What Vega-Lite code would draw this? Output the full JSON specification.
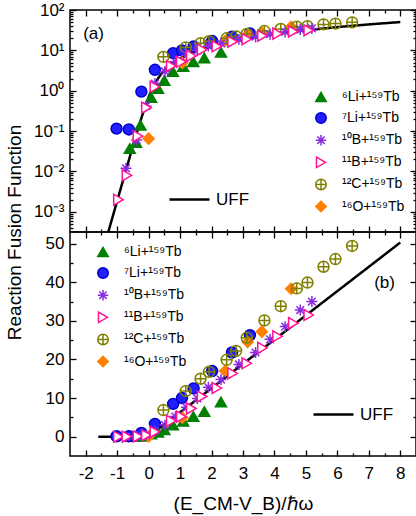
{
"$schema": "https://vega.github.io/schema/vega-lite/v6.json",
"background": "white",
"padding": {"left": 4, "top": 0, "right": 1, "bottom": 5},
"config": {
  "font": "Liberation Sans",
  "view": {"stroke": "black", "strokeWidth": 1.5},
  "axis": {"grid": false, "domain": false, "tickColor": "black", "tickWidth": 1.3, "labelColor": "black", "labelFontSize": 17, "labelFont": "Liberation Sans", "titleFont": "Liberation Sans", "titleFontSize": 19, "titleFontWeight": "normal", "titleColor": "black", "labelOverlap": false, "labelFlush": false, "labelSeparation": 0},
  "legend": {"labelFont": "Liberation Sans", "labelFontSize": 14, "labelColor": "black", "labelLimit": 300, "padding": 0}
},
"datasets": {
  "uff": [
    {"name":"UFF","x":-1.6,"y":0.000043},{"name":"UFF","x":-1.5,"y":0.000081},{"name":"UFF","x":-1.4,"y":0.000151},{"name":"UFF","x":-1.3,"y":0.000283},{"name":"UFF","x":-1.2,"y":0.000531},{"name":"UFF","x":-1.1,"y":0.000997},{"name":"UFF","x":-1.0,"y":0.00187},{"name":"UFF","x":-0.9,"y":0.0035},{"name":"UFF","x":-0.8,"y":0.00654},{"name":"UFF","x":-0.7,"y":0.0122},{"name":"UFF","x":-0.6,"y":0.0228},{"name":"UFF","x":-0.5,"y":0.0423},{"name":"UFF","x":-0.4,"y":0.0779},{"name":"UFF","x":-0.3,"y":0.141},{"name":"UFF","x":-0.2,"y":0.25},{"name":"UFF","x":-0.1,"y":0.428},{"name":"UFF","x":0,"y":0.693},{"name":"UFF","x":0.1,"y":1.056},{"name":"UFF","x":0.2,"y":1.507},{"name":"UFF","x":0.3,"y":2.026},{"name":"UFF","x":0.4,"y":2.591},{"name":"UFF","x":0.5,"y":3.184},{"name":"UFF","x":0.6,"y":3.793},{"name":"UFF","x":0.7,"y":4.41},{"name":"UFF","x":0.8,"y":5.033},{"name":"UFF","x":0.9,"y":5.658},{"name":"UFF","x":1.0,"y":6.285},{"name":"UFF","x":1.25,"y":7.854},{"name":"UFF","x":1.5,"y":9.425},{"name":"UFF","x":2,"y":12.566},{"name":"UFF","x":3,"y":18.85},{"name":"UFF","x":4,"y":25.13},{"name":"UFF","x":5,"y":31.42},{"name":"UFF","x":6,"y":37.7},{"name":"UFF","x":7,"y":43.98},{"name":"UFF","x":8,"y":50.27}
  ],
  "pts": [
    {"s":"⁶Li+¹⁵⁹Tb","x":-0.6,"y":0.037},{"s":"⁶Li+¹⁵⁹Tb","x":-0.4,"y":0.052},{"s":"⁶Li+¹⁵⁹Tb","x":-0.26,"y":0.14},{"s":"⁶Li+¹⁵⁹Tb","x":0.08,"y":0.68},{"s":"⁶Li+¹⁵⁹Tb","x":0.3,"y":1.13},{"s":"⁶Li+¹⁵⁹Tb","x":0.5,"y":1.8},{"s":"⁶Li+¹⁵⁹Tb","x":0.77,"y":3.0},{"s":"⁶Li+¹⁵⁹Tb","x":1.1,"y":4.0},{"s":"⁶Li+¹⁵⁹Tb","x":1.42,"y":5.2},{"s":"⁶Li+¹⁵⁹Tb","x":1.77,"y":6.5},{"s":"⁶Li+¹⁵⁹Tb","x":2.3,"y":9.0},
    {"s":"⁷Li+¹⁵⁹Tb","x":-1.02,"y":0.115},{"s":"⁷Li+¹⁵⁹Tb","x":-0.63,"y":0.11},{"s":"⁷Li+¹⁵⁹Tb","x":-0.23,"y":0.95},{"s":"⁷Li+¹⁵⁹Tb","x":0.2,"y":3.3},{"s":"⁷Li+¹⁵⁹Tb","x":0.78,"y":8.5},{"s":"⁷Li+¹⁵⁹Tb","x":1.06,"y":10.0},{"s":"⁷Li+¹⁵⁹Tb","x":1.43,"y":12.5},{"s":"⁷Li+¹⁵⁹Tb","x":2.02,"y":17.0},{"s":"⁷Li+¹⁵⁹Tb","x":2.65,"y":21.8},{"s":"⁷Li+¹⁵⁹Tb","x":3.22,"y":26.3},
    {"s":"¹⁶O+¹⁵⁹Tb","x":0.0,"y":0.065},{"s":"¹⁶O+¹⁵⁹Tb","x":1.07,"y":4.9},{"s":"¹⁶O+¹⁵⁹Tb","x":2.43,"y":17.0},{"s":"¹⁶O+¹⁵⁹Tb","x":3.15,"y":24.5},{"s":"¹⁶O+¹⁵⁹Tb","x":3.6,"y":27.2},{"s":"¹⁶O+¹⁵⁹Tb","x":4.53,"y":38.3},
    {"s":"¹²C+¹⁵⁹Tb","x":0.47,"y":6.9},{"s":"¹²C+¹⁵⁹Tb","x":1.18,"y":11.8},{"s":"¹²C+¹⁵⁹Tb","x":1.65,"y":15.0},{"s":"¹²C+¹⁵⁹Tb","x":1.92,"y":16.8},{"s":"¹²C+¹⁵⁹Tb","x":2.48,"y":19.9},{"s":"¹²C+¹⁵⁹Tb","x":2.78,"y":22.2},{"s":"¹²C+¹⁵⁹Tb","x":3.12,"y":25.6},{"s":"¹²C+¹⁵⁹Tb","x":3.68,"y":30.1},{"s":"¹²C+¹⁵⁹Tb","x":4.2,"y":33.8},{"s":"¹²C+¹⁵⁹Tb","x":4.71,"y":38.4},{"s":"¹²C+¹⁵⁹Tb","x":5.05,"y":39.9},{"s":"¹²C+¹⁵⁹Tb","x":5.56,"y":44.0},{"s":"¹²C+¹⁵⁹Tb","x":5.94,"y":46.0},{"s":"¹²C+¹⁵⁹Tb","x":6.47,"y":49.4},
    {"s":"¹⁰B+¹⁵⁹Tb","x":-0.72,"y":0.012},{"s":"¹⁰B+¹⁵⁹Tb","x":-0.38,"y":0.06},{"s":"¹⁰B+¹⁵⁹Tb","x":-0.08,"y":0.42},{"s":"¹⁰B+¹⁵⁹Tb","x":0.2,"y":1.5},{"s":"¹⁰B+¹⁵⁹Tb","x":0.52,"y":3.0},{"s":"¹⁰B+¹⁵⁹Tb","x":0.85,"y":5.2},{"s":"¹⁰B+¹⁵⁹Tb","x":1.2,"y":7.6},{"s":"¹⁰B+¹⁵⁹Tb","x":1.55,"y":9.9},{"s":"¹⁰B+¹⁵⁹Tb","x":1.9,"y":12.8},{"s":"¹⁰B+¹⁵⁹Tb","x":2.3,"y":14.8},{"s":"¹⁰B+¹⁵⁹Tb","x":2.87,"y":18.7},{"s":"¹⁰B+¹⁵⁹Tb","x":3.4,"y":21.8},{"s":"¹⁰B+¹⁵⁹Tb","x":3.86,"y":25.2},{"s":"¹⁰B+¹⁵⁹Tb","x":4.34,"y":28.5},{"s":"¹⁰B+¹⁵⁹Tb","x":4.82,"y":32.8},{"s":"¹⁰B+¹⁵⁹Tb","x":5.19,"y":35.0},
    {"s":"¹¹B+¹⁵⁹Tb","x":-0.96,"y":0.002},{"s":"¹¹B+¹⁵⁹Tb","x":-0.69,"y":0.008},{"s":"¹¹B+¹⁵⁹Tb","x":-0.34,"y":0.075},{"s":"¹¹B+¹⁵⁹Tb","x":-0.07,"y":0.38},{"s":"¹¹B+¹⁵⁹Tb","x":0.2,"y":1.25},{"s":"¹¹B+¹⁵⁹Tb","x":0.72,"y":4.1},{"s":"¹¹B+¹⁵⁹Tb","x":1.04,"y":5.2},{"s":"¹¹B+¹⁵⁹Tb","x":1.36,"y":7.3},{"s":"¹¹B+¹⁵⁹Tb","x":1.7,"y":10.4},{"s":"¹¹B+¹⁵⁹Tb","x":2.17,"y":12.6},{"s":"¹¹B+¹⁵⁹Tb","x":2.67,"y":16.4},{"s":"¹¹B+¹⁵⁹Tb","x":3.12,"y":19.0},{"s":"¹¹B+¹⁵⁹Tb","x":3.62,"y":23.0},{"s":"¹¹B+¹⁵⁹Tb","x":4.1,"y":26.0},{"s":"¹¹B+¹⁵⁹Tb","x":4.6,"y":29.4},{"s":"¹¹B+¹⁵⁹Tb","x":5.09,"y":31.5}
  ]
},
"spacing": 0,
"bounds": "flush",
"resolve": {"scale": {"x": "independent", "y": "independent", "fill": "independent", "stroke": "independent", "shape": "independent", "strokeDash": "independent"}, "legend": {"fill": "independent", "stroke": "independent", "shape": "independent", "strokeDash": "independent"}},
"vconcat": [
  {
    "width": 346, "height": 222,
    "resolve": {"scale": {"x": "independent", "y": "independent"}},
    "layer": [
      {
        "data": {"name": "uff"},
        "mark": {"type": "line", "color": "black", "strokeWidth": 2.5, "clip": true},
        "encoding": {
          "x": {"field": "x", "type": "quantitative", "scale": {"domain": [-2.5, 8.5], "nice": false, "zero": false},
                "axis": {"orient": "bottom", "title": null, "labels": false, "values": [-2,-1,0,1,2,3,4,5,6,7,8], "tickSize": -6}},
          "y": {"field": "y", "type": "quantitative", "scale": {"type": "log", "domain": [0.000316, 100], "nice": false},
                "axis": {"orient": "left", "title": "Reaction Fusion Function", "titleY": 222, "titleX": -46, "titleBaseline": "bottom",
                         "values": [0.001,0.01,0.1,1,10,100], "tickSize": -6, "labelPadding": 12, "labelOverlap": false,
                         "labelExpr": "datum.value == 0.001 ? '10⁻³' : datum.value == 0.01 ? '10⁻²' : datum.value == 0.1 ? '10⁻¹' : datum.value == 1 ? '10⁰' : datum.value == 10 ? '10¹' : '10²'"}},
          "strokeDash": {"field": "name", "type": "nominal", "scale": {"range": [[1, 0]]},
                         "legend": {"orient": "none", "legendX": 98, "legendY": 168, "title": null, "symbolType": "stroke", "symbolSize": 1600, "symbolStrokeColor": "black", "symbolStrokeWidth": 2.5, "labelOffset": 5, "labelFontSize": 17}}
        }
      },
      {
        "data": {"name": "pts"},
        "mark": {"type": "point", "filled": true, "size": 120, "opacity": 1, "strokeWidth": 1.5, "clip": true},
        "encoding": {
          "x": {"field": "x", "type": "quantitative", "scale": {"domain": [-2.5, 8.5], "nice": false, "zero": false}, "axis": null},
          "y": {"field": "y", "type": "quantitative", "scale": {"type": "log", "domain": [0.000316, 100], "nice": false}, "axis": null},
          "fill": {"field": "s", "type": "nominal", "scale": {"domain": ["⁶Li+¹⁵⁹Tb","⁷Li+¹⁵⁹Tb","¹⁰B+¹⁵⁹Tb","¹¹B+¹⁵⁹Tb","¹²C+¹⁵⁹Tb","¹⁶O+¹⁵⁹Tb"], "range": ["#008000","#1f1fff","#8a2be2","white","transparent","#ff8000"]},
                   "legend": {"orient": "none", "legendX": 244, "legendY": 80, "title": null, "symbolSize": 110, "symbolStrokeWidth": 1.5, "rowPadding": 4.1, "labelOffset": 14}},
          "stroke": {"field": "s", "type": "nominal", "scale": {"domain": ["⁶Li+¹⁵⁹Tb","⁷Li+¹⁵⁹Tb","¹⁰B+¹⁵⁹Tb","¹¹B+¹⁵⁹Tb","¹²C+¹⁵⁹Tb","¹⁶O+¹⁵⁹Tb"], "range": ["#008000","#0000cc","#8a2be2","#ff1493","#808000","#ff8000"]},
                   "legend": {"orient": "none", "legendX": 244, "legendY": 80, "title": null, "symbolSize": 110, "symbolStrokeWidth": 1.5, "rowPadding": 4.1, "labelOffset": 14}},
          "shape": {"field": "s", "type": "nominal", "scale": {"domain": ["⁶Li+¹⁵⁹Tb","⁷Li+¹⁵⁹Tb","¹⁰B+¹⁵⁹Tb","¹¹B+¹⁵⁹Tb","¹²C+¹⁵⁹Tb","¹⁶O+¹⁵⁹Tb"], "range": ["triangle-up","circle","M0,-1L0,1M-1,0L1,0M-0.7,-0.7L0.7,0.7M-0.7,0.7L0.7,-0.7","triangle-right","M1,0A1,1,0,1,1,-1,0A1,1,0,1,1,1,0ZM-1,0L1,0M0,-1L0,1","diamond"]},
                   "legend": {"orient": "none", "legendX": 244, "legendY": 80, "title": null, "symbolSize": 110, "symbolStrokeWidth": 1.5, "rowPadding": 4.1, "labelOffset": 14}}
        }
      },
      {
        "data": {"values": [{"label": "(a)"}]},
        "mark": {"type": "text", "fontSize": 17, "font": "Liberation Sans", "color": "black"},
        "encoding": {
          "x": {"datum": -1.75, "type": "quantitative", "scale": {"domain": [-2.5, 8.5], "nice": false, "zero": false}, "axis": null},
          "y": {"datum": 25, "type": "quantitative", "scale": {"type": "log", "domain": [0.000316, 100], "nice": false}, "axis": null},
          "text": {"field": "label"}}
      },
      {
        "data": {"name": "uff"},
        "mark": {"type": "point", "opacity": 0},
        "encoding": {
          "x": {"field": "x", "type": "quantitative", "scale": {"domain": [-2.5, 8.5], "nice": false, "zero": false},
                "axis": {"orient": "bottom", "title": null, "labels": false, "values": [-1.5,-0.5,0.5,1.5,2.5,3.5,4.5,5.5,6.5,7.5], "tickSize": -3}},
          "y": {"field": "y", "type": "quantitative", "scale": {"type": "log", "domain": [0.000316, 100], "nice": false},
                "axis": {"orient": "left", "title": null, "labels": false, "tickSize": -3,
                         "values": [0.0004,0.0005,0.0006,0.0007,0.0008,0.0009,0.002,0.003,0.004,0.005,0.006,0.007,0.008,0.009,0.02,0.03,0.04,0.05,0.06,0.07,0.08,0.09,0.2,0.3,0.4,0.5,0.6,0.7,0.8,0.9,2,3,4,5,6,7,8,9,20,30,40,50,60,70,80,90]}}
        }
      },
      {
        "data": {"name": "uff"},
        "mark": {"type": "point", "opacity": 0},
        "encoding": {
          "x": {"field": "x", "type": "quantitative", "scale": {"domain": [-2.5, 8.5], "nice": false, "zero": false},
                "axis": {"orient": "top", "title": null, "labels": false, "values": [-2,-1,0,1,2,3,4,5,6,7,8], "tickSize": -6}},
          "y": {"field": "y", "type": "quantitative", "scale": {"type": "log", "domain": [0.000316, 100], "nice": false},
                "axis": {"orient": "right", "title": null, "labels": false, "tickSize": -6, "values": [0.001,0.01,0.1,1,10,100]}}
        }
      },
      {
        "data": {"name": "uff"},
        "mark": {"type": "point", "opacity": 0},
        "encoding": {
          "x": {"field": "x", "type": "quantitative", "scale": {"domain": [-2.5, 8.5], "nice": false, "zero": false},
                "axis": {"orient": "top", "title": null, "labels": false, "values": [-1.5,-0.5,0.5,1.5,2.5,3.5,4.5,5.5,6.5,7.5], "tickSize": -3}},
          "y": {"field": "y", "type": "quantitative", "scale": {"type": "log", "domain": [0.000316, 100], "nice": false},
                "axis": {"orient": "right", "title": null, "labels": false, "tickSize": -3,
                         "values": [0.0004,0.0005,0.0006,0.0007,0.0008,0.0009,0.002,0.003,0.004,0.005,0.006,0.007,0.008,0.009,0.02,0.03,0.04,0.05,0.06,0.07,0.08,0.09,0.2,0.3,0.4,0.5,0.6,0.7,0.8,0.9,2,3,4,5,6,7,8,9,20,30,40,50,60,70,80,90]}}
        }
      }
    ]
  },
  {
    "width": 346, "height": 224,
    "resolve": {"scale": {"x": "independent", "y": "independent"}},
    "layer": [
      {
        "data": {"name": "uff"},
        "mark": {"type": "line", "color": "black", "strokeWidth": 2.5, "clip": true},
        "encoding": {
          "x": {"field": "x", "type": "quantitative", "scale": {"domain": [-2.5, 8.5], "nice": false, "zero": false},
                "axis": {"orient": "bottom", "title": "(E_CM-V_B)/ℏω", "titlePadding": 13, "values": [-2,-1,0,1,2,3,4,5,6,7,8],
                         "labelExpr": "'' + datum.value", "tickSize": -6, "labelPadding": 15, "labelOverlap": false}},
          "y": {"field": "y", "type": "quantitative", "scale": {"domain": [-5, 53], "nice": false, "zero": false},
                "axis": {"orient": "left", "title": null, "values": [0,10,20,30,40,50], "tickSize": -6, "labelPadding": 12, "labelOverlap": false}},
          "strokeDash": {"field": "name", "type": "nominal", "scale": {"range": [[1, 0]]},
                         "legend": {"orient": "none", "legendX": 242, "legendY": 161, "title": null, "symbolType": "stroke", "symbolSize": 1600, "symbolStrokeColor": "black", "symbolStrokeWidth": 2.5, "labelOffset": 5, "labelFontSize": 17}}
        }
      },
      {
        "data": {"name": "pts"},
        "mark": {"type": "point", "filled": true, "size": 120, "opacity": 1, "strokeWidth": 1.5, "clip": true},
        "encoding": {
          "x": {"field": "x", "type": "quantitative", "scale": {"domain": [-2.5, 8.5], "nice": false, "zero": false}, "axis": null},
          "y": {"field": "y", "type": "quantitative", "scale": {"domain": [-5, 53], "nice": false, "zero": false}, "axis": null},
          "fill": {"field": "s", "type": "nominal", "scale": {"domain": ["⁶Li+¹⁵⁹Tb","⁷Li+¹⁵⁹Tb","¹⁰B+¹⁵⁹Tb","¹¹B+¹⁵⁹Tb","¹²C+¹⁵⁹Tb","¹⁶O+¹⁵⁹Tb"], "range": ["#008000","#1f1fff","#8a2be2","white","transparent","#ff8000"]},
                   "legend": {"orient": "none", "legendX": 26, "legendY": 13, "title": null, "symbolSize": 110, "symbolStrokeWidth": 1.5, "rowPadding": 4.1, "labelOffset": 14}},
          "stroke": {"field": "s", "type": "nominal", "scale": {"domain": ["⁶Li+¹⁵⁹Tb","⁷Li+¹⁵⁹Tb","¹⁰B+¹⁵⁹Tb","¹¹B+¹⁵⁹Tb","¹²C+¹⁵⁹Tb","¹⁶O+¹⁵⁹Tb"], "range": ["#008000","#0000cc","#8a2be2","#ff1493","#808000","#ff8000"]},
                   "legend": {"orient": "none", "legendX": 26, "legendY": 13, "title": null, "symbolSize": 110, "symbolStrokeWidth": 1.5, "rowPadding": 4.1, "labelOffset": 14}},
          "shape": {"field": "s", "type": "nominal", "scale": {"domain": ["⁶Li+¹⁵⁹Tb","⁷Li+¹⁵⁹Tb","¹⁰B+¹⁵⁹Tb","¹¹B+¹⁵⁹Tb","¹²C+¹⁵⁹Tb","¹⁶O+¹⁵⁹Tb"], "range": ["triangle-up","circle","M0,-1L0,1M-1,0L1,0M-0.7,-0.7L0.7,0.7M-0.7,0.7L0.7,-0.7","triangle-right","M1,0A1,1,0,1,1,-1,0A1,1,0,1,1,1,0ZM-1,0L1,0M0,-1L0,1","diamond"]},
                   "legend": {"orient": "none", "legendX": 26, "legendY": 13, "title": null, "symbolSize": 110, "symbolStrokeWidth": 1.5, "rowPadding": 4.1, "labelOffset": 14}}
        }
      },
      {
        "data": {"values": [{"label": "(b)"}]},
        "mark": {"type": "text", "fontSize": 17, "font": "Liberation Sans", "color": "black"},
        "encoding": {
          "x": {"datum": 7.5, "type": "quantitative", "scale": {"domain": [-2.5, 8.5], "nice": false, "zero": false}, "axis": null},
          "y": {"datum": 39.9, "type": "quantitative", "scale": {"domain": [-5, 53], "nice": false, "zero": false}, "axis": null},
          "text": {"field": "label"}}
      },
      {
        "data": {"name": "uff"},
        "mark": {"type": "point", "opacity": 0},
        "encoding": {
          "x": {"field": "x", "type": "quantitative", "scale": {"domain": [-2.5, 8.5], "nice": false, "zero": false},
                "axis": {"orient": "bottom", "title": null, "labels": false, "values": [-1.5,-0.5,0.5,1.5,2.5,3.5,4.5,5.5,6.5,7.5], "tickSize": -3}},
          "y": {"field": "y", "type": "quantitative", "scale": {"domain": [-5, 53], "nice": false, "zero": false},
                "axis": {"orient": "left", "title": null, "labels": false, "tickSize": -3, "values": [5,15,25,35,45]}}
        }
      },
      {
        "data": {"name": "uff"},
        "mark": {"type": "point", "opacity": 0},
        "encoding": {
          "x": {"field": "x", "type": "quantitative", "scale": {"domain": [-2.5, 8.5], "nice": false, "zero": false},
                "axis": {"orient": "top", "title": null, "labels": false, "values": [-2,-1,0,1,2,3,4,5,6,7,8], "tickSize": -6}},
          "y": {"field": "y", "type": "quantitative", "scale": {"domain": [-5, 53], "nice": false, "zero": false},
                "axis": {"orient": "right", "title": null, "labels": false, "tickSize": -6, "values": [0,10,20,30,40,50]}}
        }
      },
      {
        "data": {"name": "uff"},
        "mark": {"type": "point", "opacity": 0},
        "encoding": {
          "x": {"field": "x", "type": "quantitative", "scale": {"domain": [-2.5, 8.5], "nice": false, "zero": false},
                "axis": {"orient": "top", "title": null, "labels": false, "values": [-1.5,-0.5,0.5,1.5,2.5,3.5,4.5,5.5,6.5,7.5], "tickSize": -3}},
          "y": {"field": "y", "type": "quantitative", "scale": {"domain": [-5, 53], "nice": false, "zero": false},
                "axis": {"orient": "right", "title": null, "labels": false, "tickSize": -3, "values": [5,15,25,35,45]}}
        }
      }
    ]
  }
]
}
